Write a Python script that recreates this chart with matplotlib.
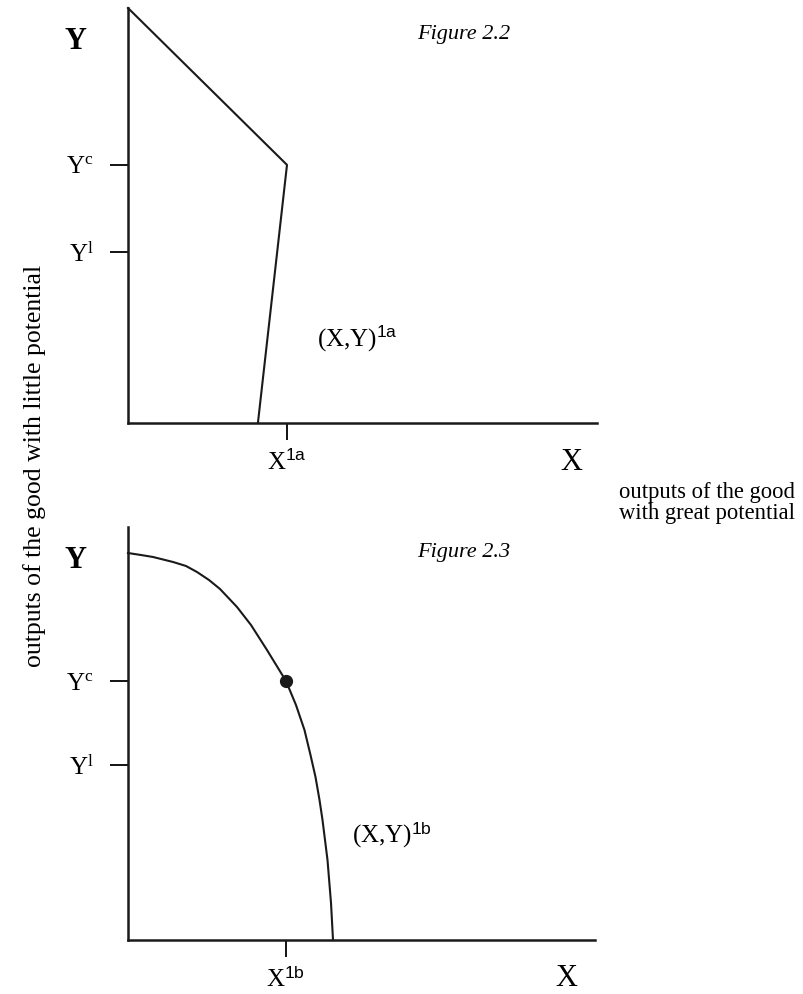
import matplotlib
matplotlib.use('Agg')
from matplotlib import pyplot as plt

plt.rcParams['font.family'] = 'Liberation Serif'
plt.rcParams['mathtext.fontset'] = 'custom'
plt.rcParams['mathtext.rm'] = 'Liberation Serif'
plt.rcParams['mathtext.it'] = 'Liberation Serif:italic'
plt.rcParams['mathtext.bf'] = 'Liberation Serif:bold'
plt.rcParams['mathtext.sf'] = 'Liberation Sans'

W, H = 804, 994

# Figure 2.2 : kinked production frontier (axis units 0..100)
kink_x = [0.0, 33.9, 27.7]
kink_y = [100.0, 62.2, 0.0]
ticks_a_y = [41.2, 62.2]
ticks_a_x = [33.9]

# Figure 2.3 : smooth production frontier
curve_x = [0.0, 2.78, 5.35, 9.64, 12.42, 14.78, 17.34, 19.70, 23.34, 26.34,
           29.76, 33.83, 35.97, 37.79, 39.08, 40.15, 41.01, 41.65, 42.72,
           43.47, 43.90]
curve_y = [93.7, 93.22, 92.74, 91.53, 90.56, 89.10, 87.17, 84.99, 80.63, 76.27,
           70.22, 62.71, 56.90, 50.85, 44.79, 39.47, 33.90, 29.06, 19.37,
           8.96, 0.0]
point_b = (33.83, 62.71)
ticks_b_y = [42.4, 62.71]
ticks_b_x = [33.83]

ylabels = [r'$\mathrm{Y}^{\mathrm{l}}$', r'$\mathrm{Y}^{\mathrm{c}}$']


def px(x, y):
    return x / W, 1 - y / H


def frame(ax, xticks, xlabels, yticks):
    ax.set_xlim(0, 100)
    ax.set_ylim(0, 100)
    for s in ['top', 'right']:
        ax.spines[s].set_visible(False)
    for s in ['left', 'bottom']:
        ax.spines[s].set_linewidth(1.8)
        ax.spines[s].set_color('#1a1a1a')
    ax.set_xticks(xticks, labels=xlabels)
    ax.set_yticks(yticks, labels=ylabels)
    ax.tick_params(axis='y', length=13, width=1.3, pad=12, labelsize=18)
    ax.tick_params(axis='x', length=12, width=1.3, pad=7, labelsize=18)
    ax.patch.set_alpha(0)


fig = plt.figure(figsize=(W / 100, H / 100), dpi=100)

ax0 = fig.add_axes([128 / W, 1 - 423 / H, 469 / W, 415 / H])
ax1 = fig.add_axes([128 / W, 1 - 940 / H, 467 / W, 413 / H])

frame(ax0, ticks_a_x, [r'$\mathrm{X}^{\mathsf{1a}}$'], ticks_a_y)
frame(ax1, ticks_b_x, [r'$\mathrm{X}^{\mathsf{1b}}$'], ticks_b_y)

ax0.plot(kink_x, kink_y, color='#1a1a1a', lw=1.5, clip_on=False)
ax1.plot(curve_x, curve_y, color='#1a1a1a', lw=1.5, clip_on=False,
         solid_joinstyle='round')
ax1.plot(*point_b, 'o', color='#1a1a1a', ms=8.5, clip_on=False)

# axis end letters
for (x, y) in [(76, 49), (76, 568)]:
    fig.text(*px(x, y), 'Y', fontsize=22, fontweight='bold', ha='center', va='baseline')
for (x, y) in [(571, 470), (566, 986)]:
    fig.text(*px(x, y), 'X', fontsize=22, ha='center', va='baseline')

# curve labels
fig.text(*px(317, 346), r'$\mathrm{(X{,}Y)}^{\mathsf{1a}}$', fontsize=18, ha='left', va='baseline')
fig.text(*px(352, 843), r'$\mathrm{(X{,}Y)}^{\mathsf{1b}}$', fontsize=18, ha='left', va='baseline')

# figure captions
fig.text(*px(510, 39), 'Figure 2.2', fontsize=16, style='italic', ha='right', va='baseline')
fig.text(*px(510, 557), 'Figure 2.3', fontsize=16, style='italic', ha='right', va='baseline')

# axis descriptions
fig.text(*px(35, 466), 'outputs of the good with little potential', fontsize=18.5,
         rotation=90, ha='center', va='center')
fig.text(*px(619, 498), 'outputs of the good', fontsize=16.3, ha='left', va='baseline')
fig.text(*px(619, 519), 'with great potential', fontsize=16.3, ha='left', va='baseline')

fig.savefig('out.png', dpi=100)
